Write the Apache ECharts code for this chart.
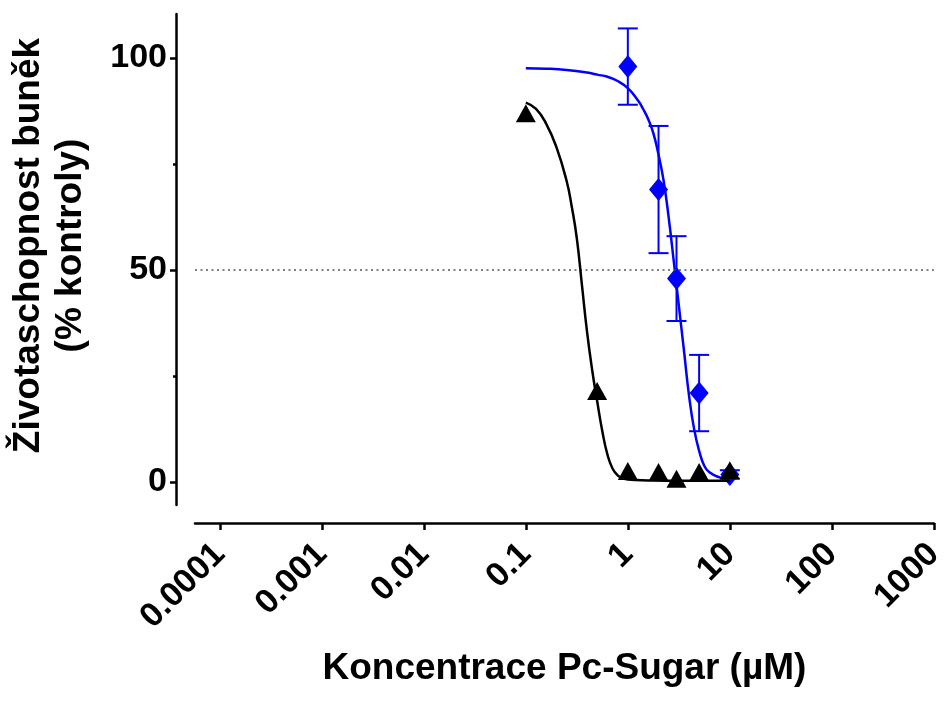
<!DOCTYPE html>
<html>
<head>
<meta charset="utf-8">
<script src="https://cdn.jsdelivr.net/npm/echarts@6/dist/echarts.min.js"></script>
<style>
  html, body { margin: 0; padding: 0; background: #fff; }
  #chart { width: 948px; height: 709px; }
</style>
</head>
<body>
<div id="chart"></div>
<script>
// tick labels of the log axis (µM)
const tickLabels = ['0.0001', '0.001', '0.01', '0.1', '1', '10', '100', '1000'];
const yTicks = [0, 50, 100];
const yMinorTicks = [25, 75];

// black triangles
const blackConc = [0.1, 0.5, 1, 2, 3, 5, 10];
const blackVal = [87, 21.5, 2.6, 2.4, 0.8, 2.4, 2.8];

// blue diamonds with error bars
const blueConc = [1, 2, 3, 5, 10];
const blueVal = [98, 69, 48, 21, 1.8];
const blueErr = [9, 15, 10, 9, 1];

// fitted curves (x as log10 of concentration)
const blackFitLogX = [-1, -0.9, -0.8, -0.7, -0.6, -0.55, -0.5, -0.45, -0.4, -0.35, -0.3, -0.25, -0.2, -0.15, -0.1, -0.05, 0, 0.2, 0.5, 1];
const blackFitVal = [89.5, 88, 84.5, 79, 71, 65, 57.5, 46.5, 35.5, 26.5, 19, 12, 6.5, 3.2, 1.6, 0.9, 0.6, 0.4, 0.3, 0.3];
const blueFitLogX = [-1, -0.8, -0.6, -0.4, -0.3, -0.2, -0.1, 0, 0.1, 0.15, 0.2, 0.25, 0.3, 0.35, 0.4, 0.45, 0.5, 0.55, 0.6, 0.65, 0.7, 0.75, 0.8, 0.9, 1];
const blueFitVal = [97.6, 97.5, 97.2, 96.6, 96.1, 95.6, 94.6, 92.9, 90, 88, 85.6, 82.3, 77.3, 71.2, 62.5, 52.2, 41.6, 31.1, 20.4, 12.5, 7.3, 3.8, 2.3, 1.1, 0.5];

const FONT = 'Liberation Sans, Arial, sans-serif';
const BLUE = '#0000ff';

const lg = v => Math.log10(v);
const tickPos = tickLabels.map(t => lg(parseFloat(t)));
const zip = (xs, ys) => xs.map((x, i) => [x, ys[i]]);

const chart = echarts.init(document.getElementById('chart'));

const option = {
  animation: false,
  backgroundColor: '#fff',
  grid: { left: 193, right: 10, top: 14, bottom: 204 },
  xAxis: {
    type: 'value',
    min: -4.243,
    max: 3,
    offset: 18,
    name: 'Koncentrace Pc-Sugar (µM)',
    nameLocation: 'middle',
    nameGap: 127,
    nameTextStyle: { fontFamily: FONT, fontWeight: 'bold', fontSize: 37, color: '#000' },
    axisLine: { show: true, onZero: false, lineStyle: { color: '#000', width: 2.5 } },
    axisTick: { show: true, length: 7, customValues: tickPos, lineStyle: { color: '#000', width: 2.5 } },
    axisLabel: {
      customValues: tickPos,
      rotate: 45,
      margin: 26,
      fontFamily: FONT, fontWeight: 'bold', fontSize: 34, color: '#000',
      formatter: v => {
        const i = tickPos.findIndex(p => Math.abs(p - v) < 1e-6);
        return i >= 0 ? tickLabels[i] : '';
      }
    },
    splitLine: { show: false }
  },
  yAxis: [{
    type: 'value',
    min: -5.4,
    max: 110.4,
    offset: 19,
    name: 'Životaschopnost buněk\n(% kontroly)',
    nameLocation: 'middle',
    nameGap: 84,
    nameTextStyle: {
      fontFamily: FONT, fontWeight: 'bold', fontSize: 37, color: '#000',
      lineHeight: 42, padding: [0, 0, 0, 28]
    },
    axisLine: { show: true, onZero: false, lineStyle: { color: '#000', width: 2.5 } },
    axisTick: { show: true, length: 6, customValues: yTicks, lineStyle: { color: '#000', width: 2.5 } },
    axisLabel: {
      customValues: yTicks,
      margin: 9,
      fontFamily: FONT, fontWeight: 'bold', fontSize: 34, color: '#000'
    },
    splitLine: { show: false }
  }, {
    type: 'value',
    min: -5.4,
    max: 110.4,
    offset: 19,
    position: 'left',
    axisLine: { show: false, onZero: false },
    axisTick: { show: true, length: 3, customValues: yMinorTicks, lineStyle: { color: '#000', width: 2.5 } },
    axisLabel: { show: false },
    splitLine: { show: false }
  }],
  series: [
    {
      // error bars
      type: 'custom',
      z: 2,
      data: blueConc.map((c, i) => [lg(c), blueVal[i], blueErr[i]]),
      renderItem: (params, api) => {
        const x = api.value(0), v = api.value(1), e = api.value(2);
        const top = api.coord([x, v + e]);
        const bot = api.coord([x, v - e]);
        const hw = 10;
        const style = { stroke: BLUE, lineWidth: 2 };
        return {
          type: 'group',
          children: [
            { type: 'line', shape: { x1: top[0], y1: top[1], x2: bot[0], y2: bot[1] }, style },
            { type: 'line', shape: { x1: top[0] - hw, y1: top[1], x2: top[0] + hw, y2: top[1] }, style },
            { type: 'line', shape: { x1: bot[0] - hw, y1: bot[1], x2: bot[0] + hw, y2: bot[1] }, style }
          ]
        };
      }
    },
    {
      type: 'line',
      z: 3,
      data: zip(blueFitLogX, blueFitVal),
      smooth: 0.5,
      showSymbol: false,
      lineStyle: { color: BLUE, width: 2.5 }
    },
    {
      type: 'scatter',
      z: 4,
      data: zip(blueConc.map(lg), blueVal),
      symbol: 'diamond',
      symbolSize: [19, 23],
      itemStyle: { color: BLUE, opacity: 1 }
    },
    {
      type: 'line',
      z: 5,
      data: zip(blackFitLogX, blackFitVal),
      smooth: 0.5,
      showSymbol: false,
      lineStyle: { color: '#000', width: 2.5 },
      markLine: {
        silent: true,
        symbol: 'none',
        label: { show: false },
        lineStyle: { color: '#555', width: 1.6, type: [2, 3.5] },
        data: [{ yAxis: 50 }]
      }
    },
    {
      type: 'scatter',
      z: 6,
      data: zip(blackConc.map(lg), blackVal),
      symbol: 'triangle',
      symbolSize: [20, 18],
      itemStyle: { color: '#000', opacity: 1 }
    }
  ]
};

chart.setOption(option);
</script>
</body>
</html>
